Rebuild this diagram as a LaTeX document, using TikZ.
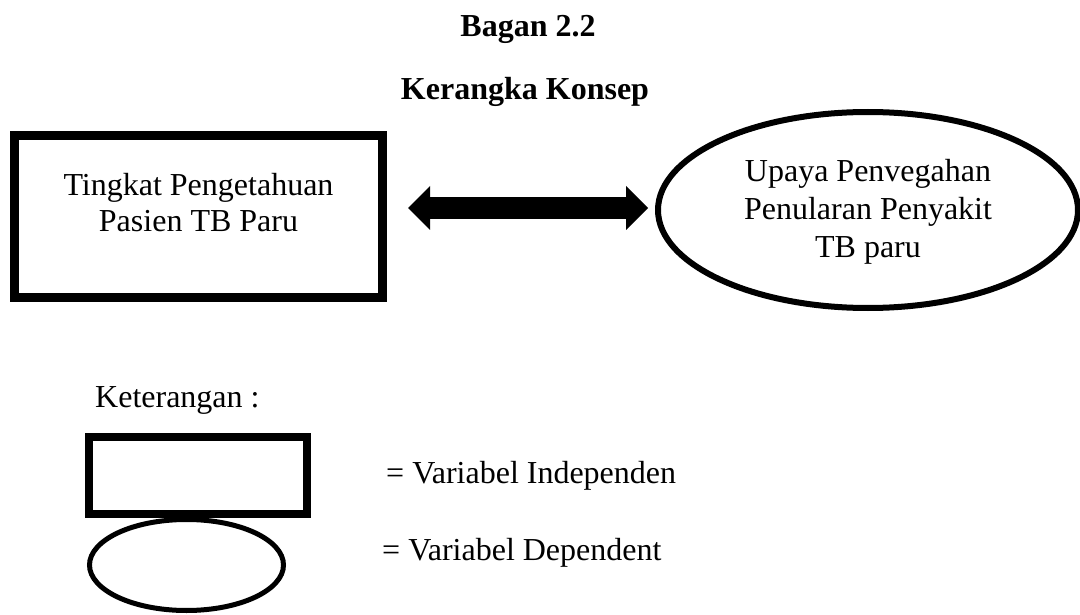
\documentclass[tikz,border=0pt]{standalone}
\usepackage{fontspec}
\setmainfont{Liberation Serif}
\usetikzlibrary{shapes.geometric,arrows.meta,calc}
\tikzset{
  txt/.style={font=\fontsize{32}{36}\selectfont, inner sep=0pt, anchor=base},
  ttl/.style={font=\fontsize{32}{36}\selectfont\bfseries, inner sep=0pt, anchor=base},
  varbox/.style={draw=black, rectangle, inner sep=0pt},
  varell/.style={draw=black, ellipse, inner sep=0pt},
  bigarrow/.style={line width=22pt,
    {Triangle[length=22pt,width=44pt,line width=0pt]}-{Triangle[length=22pt,width=44pt,line width=0pt]}}
}
\begin{document}
\begin{tikzpicture}[x=1pt,y=-1pt]
\useasboundingbox (0,0) rectangle (1080,615);
\fill[white] (0,0) rectangle (1080,615);

% titles
\node[ttl] (title1) at (528,37) {Bagan 2.2};
\node[ttl] (title2) at (525,100) {Kerangka Konsep};

% independent variable box
\node[varbox, line width=9pt, minimum width=368pt, minimum height=162pt] (box) at (198.5,216.5) {};
\node[txt] (boxa) at (198.5,196) {Tingkat Pengetahuan};
\node[txt] (boxb) at (198.5,232) {Pasien TB Paru};

% dependent variable ellipse
\node[varell, line width=6pt, minimum width=420pt, minimum height=196pt] (ell) at (868,210) {};
\node[txt] (ella) at (868,182) {Upaya Penvegahan};
\node[txt] (ellb) at (868,220) {Penularan Penyakit};
\node[txt] (ellc) at (868,258) {TB paru};

% double arrow
\draw[bigarrow] ($(box.east)+(21,-8.5)$) -- ($(ell.west)+(-7,-2)$);

% legend
\node[txt, anchor=base west] (ket) at (95,407) {Keterangan :};
\node[varbox, line width=8pt, minimum width=218pt, minimum height=77pt] (lbox) at (198,475.5) {};
\node[varell, line width=5pt, minimum width=194pt, minimum height=91pt] (lell) at (186.5,565) {};
\node[txt, anchor=base west] (lboxt) at (386,483) {= Variabel Independen};
\node[txt, anchor=base west] (lellt) at (382,560) {= Variabel Dependent};
\end{tikzpicture}
\end{document}
